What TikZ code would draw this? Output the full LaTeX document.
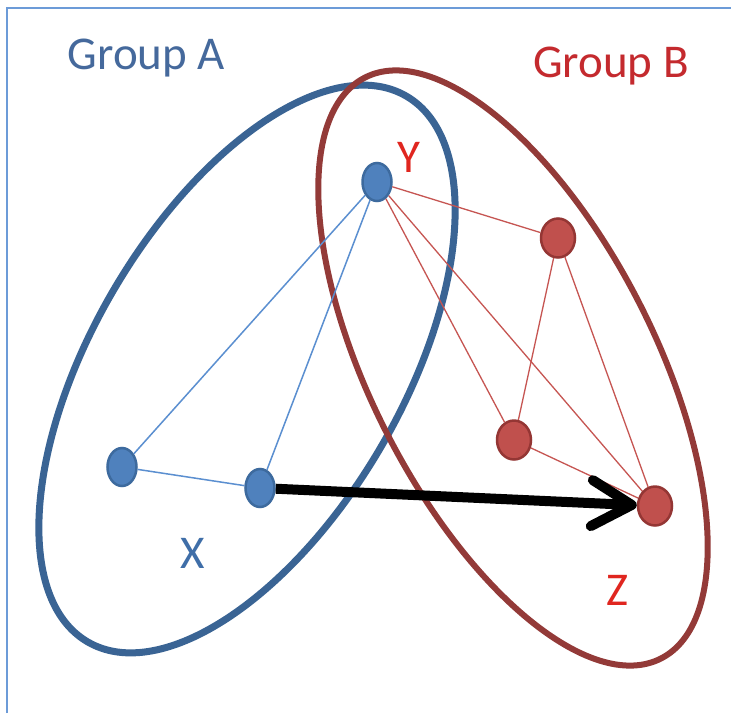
\documentclass[tikz,border=0pt]{standalone}
\usepackage{fontspec}
\setmainfont{Carlito}
\usetikzlibrary{shapes.geometric,arrows.meta}
\definecolor{framec}{HTML}{6C9BD8}
\definecolor{ablue}{HTML}{3A6494}
\definecolor{bred}{HTML}{933A38}
\definecolor{dotblue}{HTML}{4F81BD}
\definecolor{dotblueB}{HTML}{3D6A9E}
\definecolor{dotred}{HTML}{C0504D}
\definecolor{dotredB}{HTML}{943634}
\definecolor{edgeblue}{HTML}{5B8FD0}
\definecolor{edgered}{HTML}{C65552}
\definecolor{textA}{HTML}{45699C}
\definecolor{textB}{HTML}{C42A2E}
\definecolor{textYZ}{HTML}{E0261F}
\definecolor{textX}{HTML}{3F6EA8}
\begin{document}
\begin{tikzpicture}[x=1pt,y=1pt,
  bdot/.style={ellipse, draw=dotblueB, fill=dotblue, line width=2.5pt, minimum width=29pt, minimum height=38pt, inner sep=0pt},
  rdot/.style={ellipse, draw=dotredB, fill=dotred, line width=2.5pt, minimum width=34pt, minimum height=39pt, inner sep=0pt},
  bedge/.style={draw=edgeblue, line width=1.5pt},
  redge/.style={draw=edgered, line width=1.3pt},
  lbl/.style={font=\fontsize{47}{50}\selectfont, anchor=base, inner sep=0pt},
  ]
\useasboundingbox (0,0) rectangle (731,-713);
\fill[white] (0,0) rectangle (731,-713);
\draw[framec, line width=1.5pt] (7,-713) -- (7,-8) -- (731,-8);
\draw[ablue, line width=7pt, rotate around={59.7:(247,-369)}] (247,-369) ellipse [x radius=316, y radius=155];
\draw[bred, line width=6pt, rotate around={-63:(513,-368)}] (513,-368) ellipse [x radius=326, y radius=142];
\node[bdot] (Y) at (377,-182) {};
\node[bdot] (L) at (122,-467) {};
\node[bdot] (X) at (260,-488) {};
\node[rdot] (R1) at (558,-238) {};
\node[rdot] (R2) at (514,-440) {};
\node[rdot] (Z) at (655,-506) {};
\draw[bedge] (Y) -- (L);
\draw[bedge] (Y) -- (X);
\draw[bedge] (L) -- (X);
\draw[redge] (Y) -- (R1);
\draw[redge] (Y) -- (R2);
\draw[redge] (Y) -- (Z);
\draw[redge] (R1) -- (R2);
\draw[redge] (R1) -- (Z);
\draw[redge] (R2) -- (Z);
\draw[line width=10pt, -{Straight Barb[length=40pt,width=46pt,round]}] (X) -- (Z);
\node[lbl, text=textA] (gA) at (146.5,-69) {Group A};
\node[lbl, text=textB] (gB) at (611,-77) {Group B};
\node[lbl, text=textYZ] (lY) at (409,-172) {Y};
\node[lbl, text=textX] (lX) at (193,-568) {X};
\node[lbl, text=textYZ] (lZ) at (617,-605) {Z};
\end{tikzpicture}
\end{document}
